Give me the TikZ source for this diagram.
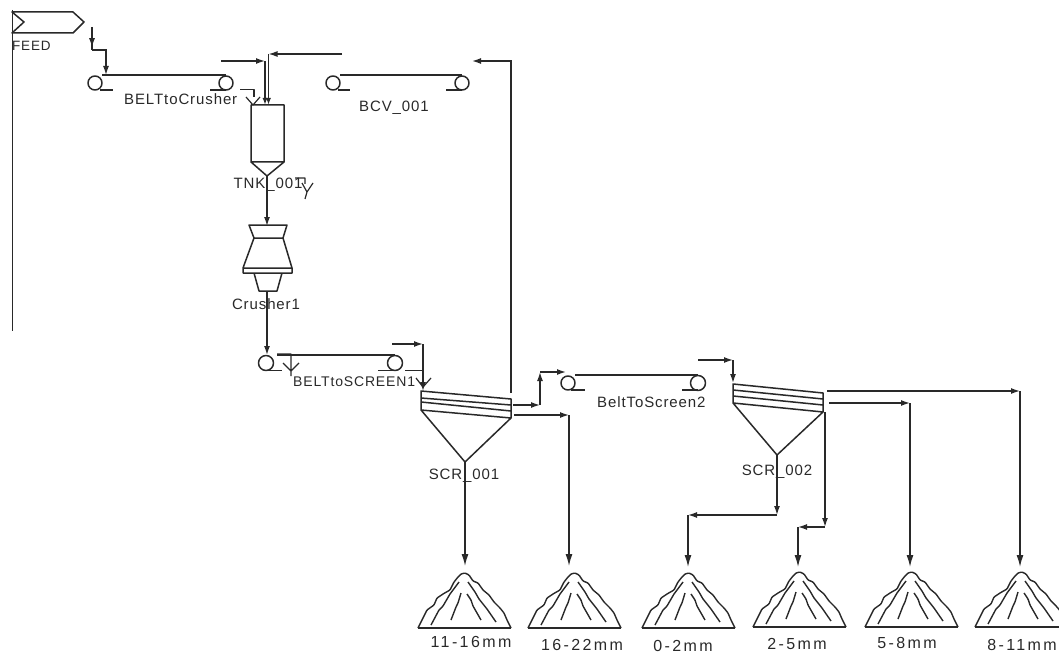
\documentclass[tikz,border=0pt]{standalone}
\usepackage{fontspec}
\setmainfont[LetterSpace=6]{Liberation Sans}
\usetikzlibrary{arrows.meta,decorations.markings}
\definecolor{ink}{gray}{0.16}
\tikzset{
  x=1pt,y=-1pt,
  unit/.style={draw=ink,line width=1.5pt,line join=round},
  thin unit/.style={draw=ink,line width=1.2pt,line join=round},
  stream/.style={draw=ink,line width=1.4pt,-{Latex[length=9pt,width=6pt]}},
  drop/.style={draw=ink,line width=1.4pt,-{Latex[length=12pt,width=7pt]}},
  plain stream/.style={draw=ink,line width=1.4pt},
  midhead/.style={postaction={decorate},decoration={markings,mark=at position #1 with {\arrow{Latex[length=9pt,width=6pt]}}}},
  lbl/.style={text=ink,inner sep=0pt,font=\fontsize{15}{15}\selectfont},
  prod/.style={text=ink,inner sep=0pt,font=\fontsize{16}{16}\selectfont\addfontfeature{LetterSpace=15}},
  pile/.pic={
    \draw[unit,line width=1.4pt] (-45,55) -- (48,55);
    \draw[unit,line width=1.4pt,rounded corners=0.8pt]
      (-45,55) -- (-40,45) -- (-36,37) -- (-29,32) -- (-26,25) -- (-20,21) -- (-13,17) -- (-9,9) -- (-5,4) -- (-2,1) -- (2,0) -- (6,2) -- (10,8) -- (15,10) -- (20,17) -- (26,22) -- (31,29) -- (37,35) -- (41,40) -- (44,47) -- (48,55);
    \draw[unit,line width=1.4pt,rounded corners=0.8pt] (-32,52) -- (-24,37) -- (-20,33) -- (-13,21) -- (-4,9)
      (-12,47) -- (-7,34) -- (-5,30) -- (-2,20)
      (4,21) -- (8,27) -- (10,33) -- (18,47)
      (5,9) -- (12,19) -- (16,26) -- (24,36) -- (33,49);
  }
}
\begin{document}
\begin{tikzpicture}
\useasboundingbox (0,0) rectangle (1059,655);
\clip (0,0) rectangle (1059,655);
% left border line
\coordinate (edgeA) at (12,10); \coordinate (edgeB) at (12,331);
\draw[draw=ink,line width=0.9pt] (edgeA) -- (edgeB);
% FEED
\draw[unit] (12,12) -- (73,12) -- (84,22) -- (73,33) -- (12,33) -- (24,22) -- cycle;
\node[lbl,anchor=west,font=\fontsize{13.5}{14}\selectfont] (feedlbl) at (12,46) {FEED};
\coordinate (feedOut) at (92,27);
\coordinate (feedC) at (92,50);
\coordinate (feedD) at (106,50);
\coordinate (beltAin) at (106,75);
\draw[plain stream,midhead=0.88] (feedOut) -- (feedC);
\draw[stream] (feedC) -- (feedD) -- (beltAin);
% belt to crusher
\draw[unit] (95,83) circle (7) (226,83) circle (7);
\draw[unit] (102,75) -- (226,75) (100,90) -- (113,90) (210,90) -- (226,90);
\node[lbl,anchor=west] (beltAlbl) at (124,99.5) {BELTtoCrusher};
\draw[thin unit] (240,89.5) -- (254,89.5) -- (254,97);
\draw[thin unit] (246,97) -- (253,105) -- (260,97);
% tank
\draw[unit] (251,105) -- (284,105) -- (284,162) -- (267,176) -- (251,162) -- cycle (251,162) -- (284,162);
\coordinate (tnkOut) at (267,176);
\node[lbl,text width=76pt,align=center] (tnklbl) at (268,185) {TNK\_001};
\draw[thin unit] (302,183) -- (307,192) -- (313,183) (307,192) -- (305,199) (295,178) -- (305,178) -- (305,184);
\coordinate (strA) at (221,61); \coordinate (strAc) at (265,61); \coordinate (tnkA) at (265,105);
\draw[stream] (strA) -- (strAc);
\draw[stream,-{Latex[length=7pt,width=5pt]}] (strAc) -- (tnkA);
\coordinate (strB) at (342,54); \coordinate (strBc) at (268.5,54); \coordinate (tnkB) at (268.5,105);
\draw[stream] (strB) -- (strBc);
\draw[stream,-{Latex[length=7pt,width=5pt]}] (strBc) -- (tnkB);
% conveyor BCV
\draw[unit] (333,83) circle (7) (462,83) circle (7);
\draw[unit] (340,75) -- (462,75) (338,90) -- (350,90) (446,90) -- (462,90);
\node[lbl,anchor=west] (bcvlbl) at (359,108) {BCV\_001};
% crusher
\draw[unit] (249,225) -- (287,225) -- (283,238) -- (254,238) -- cycle
 (254,238) -- (243,268) (283,238) -- (292,268)
 (243,268) -- (292,268) -- (292,273) -- (243,273) -- cycle
 (254,273) -- (259,291) -- (277,291) -- (282,273);
\coordinate (crIn) at (267,226);
\draw[stream] (tnkOut) -- (crIn);
\coordinate (crOut) at (267,291);
\node[lbl] (crlbl) at (266,304) {Crusher1};
\coordinate (beltBin) at (267,355);
\draw[stream] (crOut) -- (beltBin);
% belt to screen 1
\draw[unit] (266,363) circle (7.5) (395,363) circle (7.5);
\draw[unit] (277,355) -- (395,355) (268,370.5) -- (282,370.5) (378,370.5) -- (397,370.5) (405,370.5) -- (423,370.5);
\draw[thin unit] (277,354) -- (291,354) -- (291,376) (283,363) -- (291,371) -- (299,363);
\node[lbl,anchor=west,font=\fontsize{14}{14}\selectfont] (beltBlbl) at (293,382) {BELTtoSCREEN1};
\draw[thin unit] (416,378) -- (423,387) -- (431,378);
\coordinate (s1feed) at (392,344); \coordinate (s1c) at (423,344); \coordinate (s1in) at (423,391);
\draw[stream] (s1feed) -- (s1c);
\draw[stream] (s1c) -- (s1in);
% SCR 001
\draw[unit] (421,391) -- (511,399) -- (511,418) -- (465,462) -- (421,410) -- cycle
 (421,398) -- (511,405) (421,402) -- (511,411) (421,410) -- (511,418);
\coordinate (s1out) at (465,462);
\node[lbl] (s1lbl) at (464,476) {SCR\_001};
\coordinate (recA) at (511,393); \coordinate (recC) at (511,61); \coordinate (recB) at (472,61);
\draw[stream] (recA) -- (recC) -- (recB);
\coordinate (midA) at (513,405); \coordinate (midC) at (540,405); \coordinate (midD) at (540,372); \coordinate (midB) at (566,372);
\draw[stream] (midA) -- (midC);
\draw[stream] (midC) -- (midD);
\draw[stream] (midD) -- (midB);
\coordinate (loA) at (514,415); \coordinate (loC) at (569,415);
% belt to screen 2
\draw[unit] (568,383) circle (7) (698,383) circle (7.5);
\draw[unit] (575,375) -- (698,375) (571,390) -- (585,390) (682,390) -- (698,390);
\node[lbl,anchor=west] (beltClbl) at (597,402) {BeltToScreen2};
% SCR 002
\coordinate (s2feed) at (698,360); \coordinate (s2c) at (733,360); \coordinate (s2in) at (733,383);
\draw[stream] (s2feed) -- (s2c);
\draw[stream] (s2c) -- (s2in);
\draw[unit] (733,384) -- (823,393) -- (823,412) -- (777,455) -- (733,403) -- cycle
 (733,390) -- (823,399) (733,396) -- (823,405) (733,403) -- (823,412);
\coordinate (s2out) at (777,455);
\node[lbl] (s2lbl) at (777,472) {SCR\_002};
% piles
\pic (p1) at (463,573) {pile};
\pic (p2) at (573,573) {pile};
\pic (p3) at (687,573) {pile};
\pic (p4) at (798,572) {pile};
\pic (p5) at (910,572) {pile};
\pic (p6) at (1020,572) {pile};
\coordinate (p1top) at (465,566);
\coordinate (p2top) at (569,566);
\coordinate (p3top) at (688,567);
\coordinate (p4top) at (798,567);
\coordinate (p5top) at (910,567);
\coordinate (p6top) at (1020,567);
\draw[drop] (s1out) -- (p1top);
\draw[stream] (loA) -- (loC);
\draw[drop] (loC) -- (p2top);
\coordinate (o2c) at (777,515); \coordinate (o2d) at (688,515);
\draw[stream] (s2out) -- (o2c);
\draw[stream] (o2c) -- (o2d);
\draw[drop] (o2d) -- (p3top);
\coordinate (r1) at (827,391); \coordinate (r1c) at (1020,391);
\coordinate (r2) at (829,403); \coordinate (r2c) at (910,403);
\coordinate (r3) at (825,412); \coordinate (r3c) at (825,527); \coordinate (r3d) at (798,527);
\draw[stream] (r1) -- (r1c);
\draw[drop] (r1c) -- (p6top);
\draw[stream] (r2) -- (r2c);
\draw[drop] (r2c) -- (p5top);
\draw[stream] (r3) -- (r3c);
\draw[stream] (r3c) -- (r3d);
\draw[drop] (r3d) -- (p4top);
\node[prod] (l1) at (471,642) {11-16mm};
\node[prod] (l2) at (582,645) {16-22mm};
\node[prod] (l3) at (683,646) {0-2mm};
\node[prod] (l4) at (797,644) {2-5mm};
\node[prod] (l5) at (907,643) {5-8mm};
\node[prod] (l6) at (1022,645) {8-11mm};
\end{tikzpicture}
\end{document}
